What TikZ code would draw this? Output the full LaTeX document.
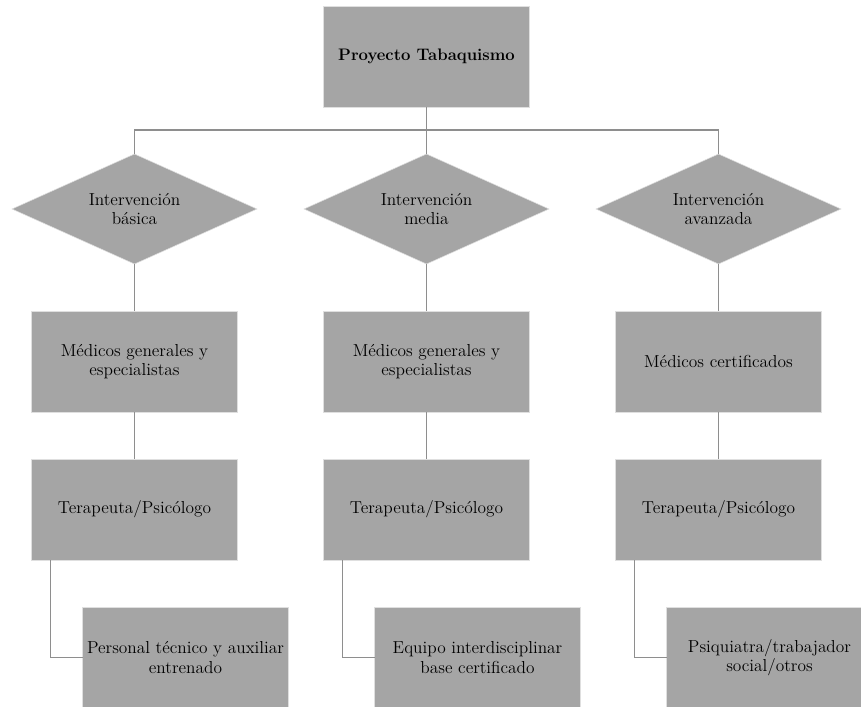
\documentclass[tikz,border=0pt]{standalone}
\usepackage{fontspec}
\usepackage{xcolor}
\usepackage{tikz}
\usetikzlibrary{shapes.geometric}
\usetikzlibrary{positioning}
\definecolor{boxgray}{HTML}{A5A5A5}
\definecolor{linegray}{HTML}{8E8E8E}

\begin{document}
\begin{tikzpicture}[x=0.75pt, y=-0.75pt, node distance=35.25pt,
  every node/.style={font=\fontsize{13}{14.5}\selectfont, outer sep=0, align=center},
  box/.style={fill=boxgray, draw=gray!25, line width=0.4pt, minimum width=154.5pt, minimum height=75.75pt, inner sep=2pt},
  decision/.style={diamond, fill=boxgray, draw=gray!25, line width=0.4pt, minimum width=183.75pt, minimum height=82.5pt, inner sep=0pt, aspect=2.2},
  link/.style={draw=linegray, line width=1.1pt}]
\clip (0,0) rectangle (861,707);
\node[box, font=\fontsize{12.5}{14.5}\selectfont] (proj) at (426.5,56.5) {\textbf{Proyecto Tabaquismo}};
\coordinate[below=17.25pt of proj] (bus);
\node[decision] (int_m) [below=of proj] {Intervención\\media};
\node[decision] (int_b) [left=of int_m] {Intervención\\básica};
\node[decision] (int_a) [right=of int_m] {Intervención\\avanzada};
\node[box] (med_b) [below=of int_b] {Médicos generales y\\especialistas};
\node[box] (med_m) [below=of int_m] {Médicos generales y\\especialistas};
\node[box] (med_a) [below=of int_a] {Médicos certificados};
\node[box] (ter_b) [below=of med_b] {Terapeuta/Psicólogo};
\node[box] (ter_m) [below=of med_m] {Terapeuta/Psicólogo};
\node[box] (ter_a) [below=of med_a] {Terapeuta/Psicólogo};
\node[box] (per_b) [below=of ter_b, xshift=38.25pt] {Personal técnico y auxiliar\\entrenado};
\node[box] (equ_m) [below=of ter_m, xshift=38.25pt] {Equipo interdisciplinar\\base certificado};
\node[box] (psi_a) [below=of ter_a, xshift=38.25pt] {Psiquiatra/trabajador\\social/otros};
%\draw[link] (proj) |- (int_b);
\draw[link] (proj) -- (bus);
\draw[link] (bus) -| (int_b.north);
\draw[link] (bus) -- (int_m.north);
\draw[link] (bus) -| (int_a.north);
\draw[link] (int_b) -- (med_b);
\draw[link] (int_m) -- (med_m);
\draw[link] (int_a) -- (med_a);
\draw[link] (med_b) -- (ter_b);
\draw[link] (med_m) -- (ter_m);
\draw[link] (med_a) -- (ter_a);
\draw[link] ([xshift=14.25pt]ter_b.south west) |- (per_b.west);
\draw[link] ([xshift=14.25pt]ter_m.south west) |- (equ_m.west);
\draw[link] ([xshift=14.25pt]ter_a.south west) |- (psi_a.west);
\end{tikzpicture}
\end{document}
